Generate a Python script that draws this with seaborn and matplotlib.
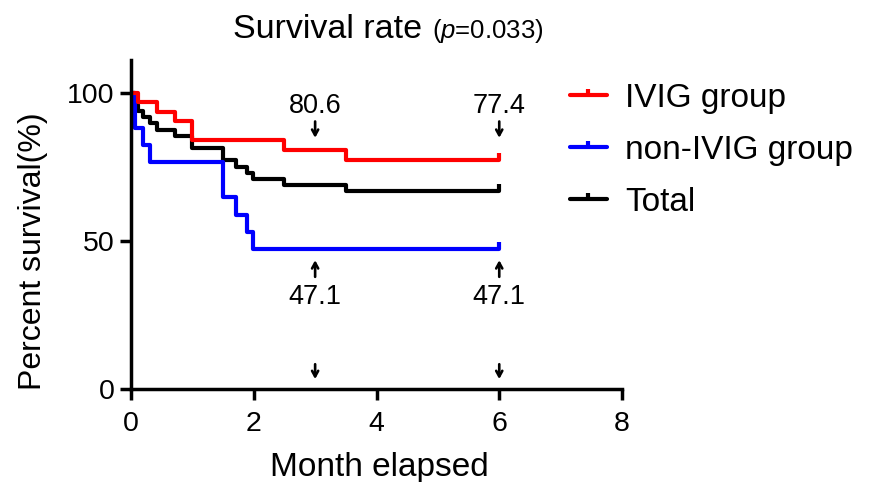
import numpy as np
import pandas as pd
import matplotlib
matplotlib.use("Agg")
import matplotlib.pyplot as plt
import seaborn as sns
from matplotlib.lines import Line2D
from matplotlib.path import Path

# Kaplan-Meier steps (month, percent survival)
ivig_t = [0, 0.12, 0.42, 0.72, 1.00, 2.49, 3.51, 6.0]
ivig_s = [100, 96.8, 93.5, 90.3, 83.9, 80.6, 77.4, 77.4]

non_t = [0, 0.06, 0.20, 0.31, 1.50, 1.71, 1.89, 1.99, 6.0]
non_s = [100, 88.2, 82.4, 76.5, 64.7, 58.8, 52.9, 47.1, 47.1]

tot_t = [0, 0.06, 0.12, 0.20, 0.31, 0.42, 0.72, 1.00, 1.50, 1.71, 1.89, 1.99, 2.49, 3.51, 6.0]
tot_s = [100, 95.8, 93.8, 91.7, 89.6, 87.5, 85.4, 81.3, 77.1, 75.0, 72.9, 70.8, 68.8, 66.7, 66.7]

groups = ["IVIG group", "non-IVIG group", "Total"]
colors = {"IVIG group": "#ff0000", "non-IVIG group": "#0000ff", "Total": "#000000"}

# annotations: (month, label)
top_notes = [(3, "80.6"), (6, "77.4")]
low_notes = [(3, "47.1"), (6, "47.1")]
axis_arrows = [3, 6]

df = pd.concat([
    pd.DataFrame({"month": tot_t, "surv": tot_s, "group": "Total"}),
    pd.DataFrame({"month": non_t, "surv": non_s, "group": "non-IVIG group"}),
    pd.DataFrame({"month": ivig_t, "surv": ivig_s, "group": "IVIG group"}),
])

sns.set_style("ticks")
plt.rcParams["font.family"] = ["Liberation Sans", "DejaVu Sans"]
plt.rcParams["mathtext.fontset"] = "custom"
plt.rcParams["mathtext.it"] = "Liberation Sans:italic"
plt.rcParams["mathtext.rm"] = "Liberation Sans"
for k in ["text.color", "axes.labelcolor", "xtick.color", "ytick.color", "axes.edgecolor"]:
    plt.rcParams[k] = "black"

fig = plt.figure(figsize=(8.72, 4.82), dpi=100)
ax = fig.add_axes([131/872, 1-389/482, 491/872, 329/482])

tick_marker = Path([(0, 0), (0, 1)])

for g in ["Total", "non-IVIG group", "IVIG group"]:
    sub = df[df["group"] == g]
    sns.lineplot(data=sub, x="month", y="surv", color=colors[g], lw=3,
                 drawstyle="steps-post", estimator=None, sort=False, ax=ax,
                 legend=False)
    ax.plot(sub["month"].iloc[-1], sub["surv"].iloc[-1], marker=tick_marker,
            ms=10, mew=3, color=colors[g], ls="none")

ax.set_xlim(0, 8)
ax.set_ylim(0, 111)
ax.set_xticks([0, 2, 4, 6, 8])
ax.set_yticks([0, 50, 100])
sns.despine(ax=ax)
for s in ["left", "bottom"]:
    ax.spines[s].set_linewidth(2.5)
ax.tick_params(width=2.5, length=8, labelsize=20.5)
ax.tick_params(axis="x", pad=8)
ax.tick_params(axis="y", pad=4)

ax.set_xlabel("Month elapsed", fontsize=24)
ax.set_ylabel("Percent survival(%)", fontsize=23)
ax.xaxis.set_label_coords(0.505, -0.193)
ax.yaxis.set_label_coords(-0.17, 0.42)

arrow = dict(arrowstyle="->,head_length=0.4,head_width=0.22", lw=1.9, color="black")
for m, lab in top_notes:
    ax.text(m, 95.5, lab, ha="center", va="center", fontsize=19.5)
    ax.annotate("", xy=(m, 83.8), xytext=(m, 91.2), arrowprops=arrow)
for m, lab in low_notes:
    ax.annotate("", xy=(m, 44.4), xytext=(m, 36.9), arrowprops=arrow)
    ax.text(m, 31, lab, ha="center", va="center", fontsize=19.5)
for m in axis_arrows:
    ax.annotate("", xy=(m, 2.4), xytext=(m, 9.3), arrowprops=arrow)

fig.text(233/872, 1-38/482, "Survival rate", fontsize=24.5, ha="left", va="baseline")
fig.text(432/872, 1-38/482, r"($\it{p}$=0.033)", fontsize=18.5, ha="left", va="baseline")

handles = [Line2D([], [], color=colors[g], lw=3, marker=tick_marker, ms=8, mew=3)
           for g in groups]
fig.legend(handles, groups, loc="upper left", bbox_to_anchor=(570/872, 1-83/482),
           frameon=False, fontsize=24, handlelength=1.1, handletextpad=0.55,
           labelspacing=0.63, borderpad=0, borderaxespad=0)

fig.savefig("out.png", dpi=100)
